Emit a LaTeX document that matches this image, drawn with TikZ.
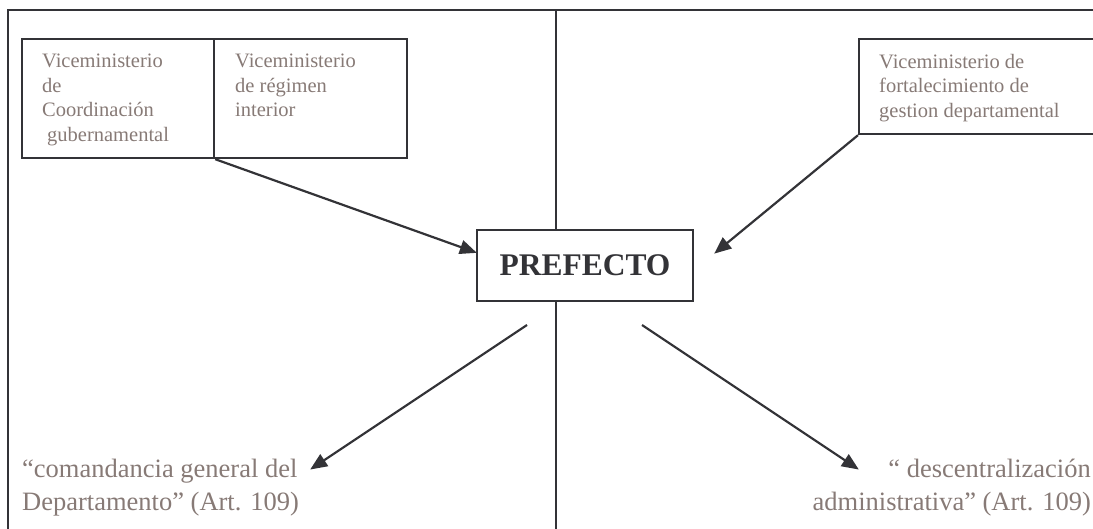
\documentclass[tikz,border=0pt]{standalone}
\usepackage{fontspec}
\setmainfont{Liberation Serif}
\usetikzlibrary{arrows.meta,calc}
\definecolor{linec}{RGB}{51,51,55}
\definecolor{txtc}{RGB}{135,122,118}
\begin{document}
\begin{tikzpicture}[x=1pt,y=-1pt,
  frameline/.style={draw=linec,line width=2.2pt},
  vbox/.style={draw=linec,line width=2.2pt,inner sep=0pt,anchor=north west},
  vtext/.style={text=txtc,font=\fontsize{20.5}{24.5}\selectfont,align=left,inner sep=0pt,anchor=north west},
  btext/.style={text=txtc,font=\fontsize{26.5}{33}\selectfont,inner sep=0pt},
  arr/.style={draw=linec,line width=2.2pt,-{Triangle[length=17pt,width=14pt]},shorten >=-1pt}
]
\useasboundingbox (0,0) rectangle (1093,529);
\clip (0,0) rectangle (1093,529);
% frame lines
\coordinate (tl) at (8,10);
\coordinate (tr) at (1100,10);
\coordinate (bl) at (8,535);
\coordinate (vt) at (556,10);
\coordinate (vb) at (556,535);
\draw[frameline] (bl) -- (tl) -- (tr);
\draw[frameline] (vt) -- (vb);
% boxes
\node[vbox,minimum width=192pt,minimum height=119pt] (b1) at (21,38) {};
\node[vbox,minimum width=193pt,minimum height=119pt] (b2) at (213,38) {};
\node[vbox,minimum width=245pt,minimum height=95pt] (b3) at (858,38) {};
\node[vtext] (t1) at ($(b1.north west)+(21,16)$) {Viceministerio\\de\\Coordinación\\\hspace*{5pt}gubernamental};
\node[vtext] (t2) at ($(b2.north west)+(22,16)$) {Viceministerio\\de régimen\\interior};
\node[vtext] (t3) at ($(b3.north west)+(21,16)$) {Viceministerio de\\fortalecimiento de\\gestion departamental};
% prefecto
\node[draw=linec,line width=2.2pt,fill=white,minimum width=216pt,minimum height=71pt,inner sep=0pt,
  text=linec,font=\fontsize{31.5}{36}\selectfont\bfseries] (pref) at (585,265.5) {PREFECTO};
% bottom texts
\node[btext,align=left,anchor=north west] (dl) at (22,459) {“comandancia general del\\Departamento” (Art. 109)};
\node[btext,align=right,anchor=north east] (dr) at (1091,459) {“ descentralización\\administrativa” (Art. 109)};
% arrows
\coordinate (pin1) at ($(pref.west)+(0,-13)$);
\coordinate (pin3) at (715,253);
\coordinate (s1) at (527,325);
\coordinate (s2) at (642,325);
\coordinate (e1) at (311,469);
\coordinate (e2) at (858,469);
\draw[arr] (b1.south east) -- (pin1);
\draw[arr] (b3.south west) -- (pin3);
\draw[arr] (s1) -- (e1);
\draw[arr] (s2) -- (e2);
\end{tikzpicture}
\end{document}
